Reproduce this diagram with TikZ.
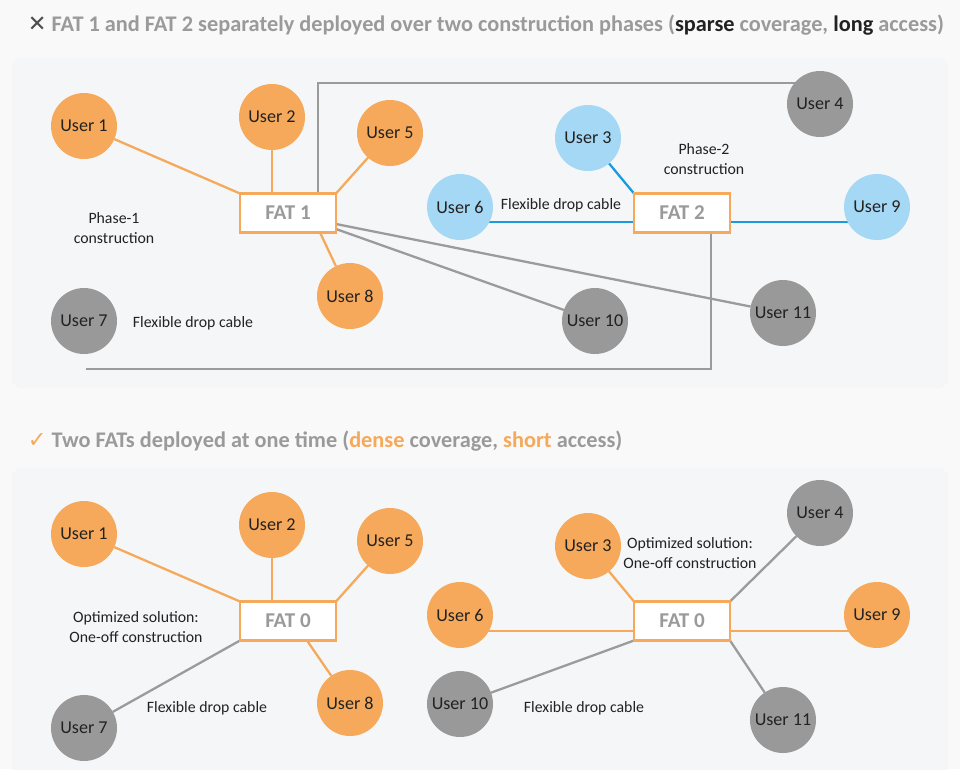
\documentclass[tikz,border=0pt]{standalone}
\usepackage{fontspec}
\setmainfont{Carlito}
\newfontfamily\symfont{DejaVu Sans}
\usetikzlibrary{backgrounds}

\definecolor{pagegray}{HTML}{F9F9F9}
\definecolor{panelgray}{HTML}{F4F6F7}
\definecolor{fatorange}{HTML}{F6A95A}
\definecolor{userblue}{HTML}{A5D8F5}
\definecolor{usergray}{HTML}{999999}
\definecolor{cablegray}{HTML}{9B9B9B}
\definecolor{cableblue}{HTML}{1A9BE0}
\definecolor{titlegray}{HTML}{9A9A9A}
\definecolor{darktext}{HTML}{222222}

\begin{document}
\begin{tikzpicture}[x=0.02cm, y=-0.02cm, inner sep=0, outer sep=0,
  user/.style={circle, minimum size=1.32cm, text=darktext, font=\fontsize{10.3}{12}\selectfont},
  ouser/.style={user, fill=fatorange},
  buser/.style={user, fill=userblue},
  guser/.style={user, fill=usergray},
  fat/.style={rectangle, draw=fatorange, line width=1.6pt, fill=white,
    minimum width=1.92cm, minimum height=0.78cm, text=titlegray,
    font=\bfseries\fontsize{12}{14}\selectfont},
  note/.style={align=center, text=darktext, font=\fontsize{9}{11.3}\selectfont},
  title/.style={anchor=base west, text=titlegray, font=\bfseries\fontsize{12.7}{15}\selectfont},
  ocable/.style={draw=fatorange, line width=1.3pt},
  gcable/.style={draw=cablegray, line width=1.3pt},
  bcable/.style={draw=cableblue, line width=1.3pt}]

  \useasboundingbox (0,0) rectangle (960,769);
  \begin{scope}[on background layer]
    \fill[pagegray] (0,0) rectangle (960,769);
    \fill[panelgray, rounded corners=0.2cm] (12,58) rectangle (948,388);
    \fill[panelgray, rounded corners=0.2cm] (12,468) rectangle (948,800);
  \end{scope}

  % titles
  \node[title] (title1) at (28,31) {{\symfont\color{black!70}\mdseries ✕}\ FAT 1 and FAT 2 separately deployed over two construction phases (\textcolor{darktext}{sparse} coverage, \textcolor{darktext}{long} access)};
  \node[title] (title2) at (28,447) {{\symfont\color{fatorange}\mdseries ✓}\ Two FATs deployed at one time (\textcolor{fatorange}{dense} coverage, \textcolor{fatorange}{short} access)};

  % top panel
  \node[fat] (fat1) at (288,213) {FAT 1};
  \node[fat] (fat2) at (682,213) {FAT 2};

  \node[ouser] (u1) at (84,126) {User 1};
  \node[ouser] (u2) at (272,117) {User 2};
  \node[ouser] (u5) at (390,133) {User 5};
  \node[ouser] (u8) at (350,296) {User 8};
  \node[guser] (u7) at (84,321) {User 7};
  \node[guser] (u10) at (595,321) {User 10};
  \node[guser] (u11) at (783,313) {User 11};
  \node[guser] (u4) at (820,104) {User 4};
  \node[buser] (u3) at (588,138) {User 3};
  \node[buser] (u6) at (460,207) {User 6};
  \node[buser] (u9) at (877,207) {User 9};

  \node[note] (phase1) at (114,228) {Phase-1\\construction};
  \node[note] (phase2) at (704,159) {Phase-2\\construction};
  \node[note] (drop1) at (193,323) {Flexible drop cable};
  \node[note] (drop2) at (561,205) {Flexible drop cable};

  \coordinate (bend1) at (318,83);
  \coordinate (tail) at (86,369);
  \coordinate (bend2) at (711,369);
  \coordinate (f2w) at ([yshift=-0.18cm]fat2.west);
  \coordinate (f2e) at ([yshift=-0.18cm]fat2.east);

  \begin{scope}[on background layer]
    \draw[ocable] (u1) -- (fat1.north west);
    \draw[ocable] (u2) -- (u2 |- fat1.north);
    \draw[ocable] (u5) -- (fat1.north east);
    \draw[ocable] (u8) -- ([xshift=0.64cm]fat1.south);
    \draw[gcable] ([yshift=-0.22cm]fat1.east) -- (u11);
    \draw[gcable] ([yshift=-0.32cm]fat1.east) -- (u10);
    \draw[gcable] (bend1 |- fat1.north) -- (bend1) -- (bend1 -| u4);
    \draw[gcable] (tail) -- (bend2) -- (bend2 |- fat2.south);
    \draw[bcable] (u3) -- (fat2.north west);
    \draw[bcable] (f2w -| u6) -- (f2w);
    \draw[bcable] (f2e) -- (f2e -| u9);
  \end{scope}

  % bottom panel
  \node[fat] (fat0a) at (288,621) {FAT 0};
  \node[fat] (fat0b) at (682,621) {FAT 0};

  \node[ouser] (v1) at (84,534) {User 1};
  \node[ouser] (v2) at (272,525) {User 2};
  \node[ouser] (v5) at (390,541) {User 5};
  \node[ouser] (v8) at (350,703) {User 8};
  \node[guser] (v7) at (84,728) {User 7};
  \node[ouser] (v3) at (588,546) {User 3};
  \node[guser] (v4) at (820,513) {User 4};
  \node[ouser] (v6) at (460,615) {User 6};
  \node[ouser] (v9) at (877,615) {User 9};
  \node[guser] (v10) at (460,704) {User 10};
  \node[guser] (v11) at (783,720) {User 11};

  \node[note] (opt1) at (136,627) {Optimized solution:\\One-off construction};
  \node[note] (opt2) at (690,553) {Optimized solution:\\One-off construction};
  \node[note] (drop3) at (207,708) {Flexible drop cable};
  \node[note] (drop4) at (584,708) {Flexible drop cable};

  \coordinate (f0w) at ([yshift=-0.2cm]fat0b.west);
  \coordinate (f0e) at ([yshift=-0.2cm]fat0b.east);

  \begin{scope}[on background layer]
    \draw[ocable] (v1) -- (fat0a.north west);
    \draw[ocable] (v2) -- (v2 |- fat0a.north);
    \draw[ocable] (v5) -- (fat0a.north east);
    \draw[ocable] (v8) -- ([xshift=0.38cm]fat0a.south);
    \draw[gcable] (v7) -- (fat0a.south west);
    \draw[ocable] (v3) -- (fat0b.north west);
    \draw[gcable] (v4) -- (fat0b.north east);
    \draw[ocable] (f0w -| v6) -- (f0w);
    \draw[ocable] (f0e) -- (f0e -| v9);
    \draw[gcable] (v10) -- (fat0b.south west);
    \draw[gcable] (v11) -- (fat0b.south east);
  \end{scope}
\end{tikzpicture}
\end{document}
